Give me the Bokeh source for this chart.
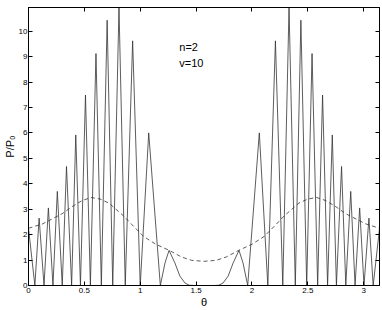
from bokeh.plotting import figure
from bokeh.models import LinearAxis, FixedTicker, Range1d, Label
from bokeh.embed import file_html
from bokeh.resources import INLINE

# solid curve P/P0 (theta in rad)
theta_solid = [0.000, 0.057, 0.095, 0.139, 0.178, 0.219, 0.258, 0.302, 0.340, 0.386,
               0.423, 0.465, 0.510, 0.554, 0.604, 0.652, 0.704, 0.754, 0.810, 0.866,
               0.932, 1.000, 1.076, 1.180, 1.222, 1.258, 1.310, 1.355, 1.400, 1.440,
               1.480,
               1.662, 1.702, 1.742, 1.787, 1.832, 1.884, 1.920, 1.962, 2.066, 2.142,
               2.210, 2.276, 2.332, 2.388, 2.438, 2.490, 2.538, 2.588, 2.632, 2.677,
               2.719, 2.756, 2.802, 2.840, 2.884, 2.923, 2.964, 3.003, 3.047, 3.085,
               3.142]
p_solid = [2.25, 0.0, 2.65, 0.0, 3.05, 0.0, 3.70, 0.0, 4.68, 0.0,
           5.92, 0.0, 7.49, 0.0, 9.12, 0.0, 10.43, 0.0, 10.93, 0.0,
           9.62, 0.0, 6.00, 0.0, 0.89, 1.38, 0.89, 0.37, 0.10, 0.01,
           0.0,
           0.0, 0.01, 0.10, 0.37, 0.89, 1.38, 0.89, 0.0, 6.00, 0.0,
           9.62, 0.0, 10.93, 0.0, 10.43, 0.0, 9.12, 0.0, 7.49, 0.0,
           5.92, 0.0, 4.68, 0.0, 3.70, 0.0, 3.05, 0.0, 2.65, 0.0,
           2.25]

# dashed curve
theta_dash = [0.00, 0.125, 0.30, 0.39, 0.48, 0.56, 0.64, 0.72, 0.85, 0.94,
              1.03, 1.14, 1.26, 1.37, 1.46, 1.5708, 1.68, 1.77, 1.88, 2.00,
              2.11, 2.20, 2.29, 2.42, 2.50, 2.58, 2.66, 2.75, 2.84, 3.02, 3.1416]
p_dash = [2.25, 2.42, 2.82, 3.10, 3.34, 3.46, 3.40, 3.24, 2.74, 2.33,
          1.93, 1.62, 1.38, 1.12, 0.99, 0.95, 0.99, 1.12, 1.38, 1.62,
          1.93, 2.33, 2.74, 3.24, 3.40, 3.46, 3.34, 3.10, 2.82, 2.42, 2.25]

x_ticks = [0, 0.5, 1, 1.5, 2, 2.5, 3]
x_tick_labels = ["0", "0.5", "1", "1.5", "2", "2.5", "3"]
y_ticks = [0, 1, 2, 3, 4, 5, 6, 7, 8, 9, 10]
y_tick_labels = ["0", "1", "2", "3", "4", "5", "6", "7", "8", "9", "10"]
annotations = ["n=2", "v=10"]

FONT = "Liberation Sans"

p = figure(width=382, height=310, output_backend="svg", toolbar_location=None,
           x_range=Range1d(0, 3.1416), y_range=Range1d(0, 10.93),
           min_border_left=26, min_border_right=3, min_border_top=7, min_border_bottom=24,
           background_fill_color="white", border_fill_color="white")
p.grid.visible = False
p.outline_line_color = "black"
p.outline_line_width = 1

p.line(theta_solid, p_solid, line_color="#333333", line_width=0.8)
p.line(theta_dash, p_dash, line_color="#333333", line_width=0.8, line_dash="4 3")

p.add_layout(Label(x=1.35, y=9.15, text=annotations[0], text_font=FONT,
                   text_font_size="11px", text_color="black"))
p.add_layout(Label(x=1.35, y=8.50, text=annotations[1], text_font=FONT,
                   text_font_size="11px", text_color="black"))

def style(ax, labels):
    ax.axis_line_color = "black"
    ax.major_tick_in = 4
    ax.major_tick_out = 0
    ax.minor_tick_line_color = None
    ax.major_tick_line_color = "black"
    ax.major_label_text_font = FONT
    ax.major_label_text_font_size = "8px"
    ax.major_label_text_color = "black"
    ax.major_label_standoff = 2
    ax.axis_label_text_color = "black"
    if not labels:
        ax.major_label_text_color = None
        ax.major_label_standoff = 0

xa = p.xaxis[0]
xa.ticker = FixedTicker(ticks=x_ticks)
xa.major_label_overrides = {t: l for t, l in zip(x_ticks, x_tick_labels)}
style(xa, True)
xa.axis_label = "θ"
xa.axis_label_text_font = FONT
xa.axis_label_text_font_style = "normal"
xa.axis_label_text_font_size = "11px"
xa.axis_label_standoff = 0

ya = p.yaxis[0]
ya.ticker = FixedTicker(ticks=y_ticks)
ya.major_label_overrides = {t: l for t, l in zip(y_ticks, y_tick_labels)}
style(ya, True)
ya.major_label_standoff = 1
ya.axis_label = "P/P₀"
ya.axis_label_text_font = FONT
ya.axis_label_text_font_style = "normal"
ya.axis_label_text_font_size = "11px"
ya.axis_label_standoff = 0

ra = LinearAxis(ticker=FixedTicker(ticks=y_ticks))
style(ra, False)
p.add_layout(ra, "right")
ta = LinearAxis(ticker=FixedTicker(ticks=x_ticks))
style(ta, False)
p.add_layout(ta, "above")

open("out.html", "w").write(file_html(p, INLINE))
